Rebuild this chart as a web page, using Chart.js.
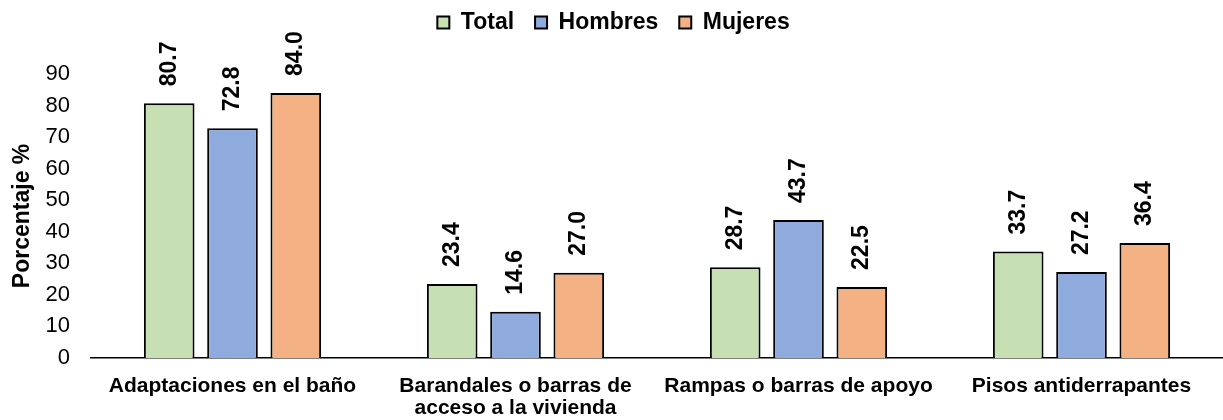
<!DOCTYPE html>
<html lang="es">
<head>
<meta charset="UTF-8">
<title>Adaptaciones en la vivienda</title>
<script src="https://cdn.jsdelivr.net/npm/chart.js"></script>
<style>
  html, body { margin: 0; padding: 0; background: #fff; }
  #wrap { width: 1223px; height: 420px; }
</style>
</head>
<body>
<div id="wrap"><canvas id="chart"></canvas></div>
<script>
const categories = [
  'Adaptaciones en el baño',
  ['Barandales o barras de', 'acceso a la vivienda'],
  'Rampas o barras de apoyo',
  'Pisos antiderrapantes'
];
const total = [80.7, 23.4, 28.7, 33.7];
const hombres = [72.8, 14.6, 43.7, 27.2];
const mujeres = [84.0, 27.0, 22.5, 36.4];

const FONT = "'Liberation Sans', Arial, sans-serif";

// extra room between legend and plot area
const legendGap = {
  id: 'legendGap',
  beforeInit(chart) {
    const fit = chart.legend.fit;
    chart.legend.fit = function () {
      fit.call(this);
      this.height += 30;
    };
  }
};

// rotated value labels above each bar
const barValues = {
  id: 'barValues',
  afterDatasetsDraw(chart) {
    const ctx = chart.ctx;
    ctx.save();
    ctx.font = 'bold 23px ' + FONT;
    ctx.fillStyle = '#000';
    ctx.textAlign = 'left';
    ctx.textBaseline = 'middle';
    chart.data.datasets.forEach((ds, i) => {
      chart.getDatasetMeta(i).data.forEach((bar, j) => {
        ctx.save();
        ctx.translate(bar.x, bar.y - 17);
        ctx.rotate(-Math.PI / 2);
        ctx.fillText(ds.data[j].toFixed(1), 0, 0);
        ctx.restore();
      });
    });
    ctx.restore();
  }
};

new Chart(document.getElementById('chart'), {
  type: 'bar',
  data: {
    labels: categories,
    datasets: [
      { label: 'Total', data: total, backgroundColor: '#C6E0B4' },
      { label: 'Hombres', data: hombres, backgroundColor: '#8FAADC' },
      { label: 'Mujeres', data: mujeres, backgroundColor: '#F4B183' }
    ].map(d => Object.assign(d, {
      borderColor: '#000',
      borderWidth: 2,
      categoryPercentage: 0.671,
      barPercentage: 0.8
    }))
  },
  options: {
    responsive: true,
    maintainAspectRatio: false,
    animation: false,
    layout: { padding: { top: -10, right: -4, left: 0, bottom: -16 } },
    plugins: {
      legend: {
        position: 'top',
        labels: {
          font: { family: FONT, size: 23, weight: 'bold' },
          color: '#000',
          boxWidth: 12,
          boxHeight: 12,
          padding: 21
        }
      },
      tooltip: { enabled: false }
    },
    scales: {
      x: {
        grid: { display: false, drawTicks: false },
        border: { color: '#000', width: 1.5 },
        ticks: {
          font: { family: FONT, size: 21, weight: 'bold', lineHeight: 1.05 },
          color: '#000',
          maxRotation: 0,
          autoSkip: false,
          padding: 17
        }
      },
      y: {
        min: 0,
        max: 90,
        afterFit(scale) { scale.width = 91; },
        grid: { display: false, drawTicks: false },
        border: { display: false },
        ticks: {
          stepSize: 10,
          font: { family: FONT, size: 22 },
          color: '#000',
          padding: 21
        },
        title: {
          display: true,
          text: 'Porcentaje %',
          font: { family: FONT, size: 23, weight: 'bold' },
          color: '#000',
          padding: { top: 9, bottom: 12 }
        }
      }
    }
  },
  plugins: [legendGap, barValues]
});
</script>
</body>
</html>
